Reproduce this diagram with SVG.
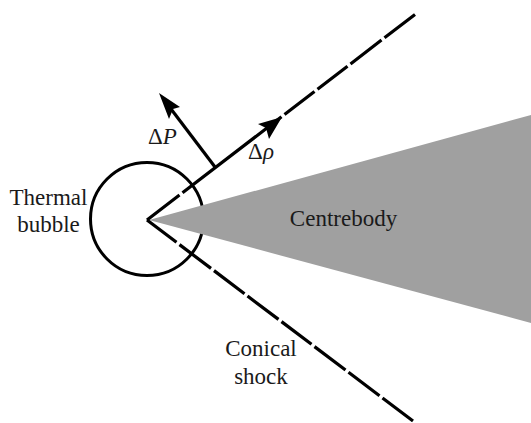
<svg xmlns="http://www.w3.org/2000/svg" width="531" height="423" viewBox="0 0 531 423">
<style>
.t{font-family:"Liberation Serif","Times New Roman",serif;font-size:23px;fill:#1a1a1a;text-anchor:middle}
.i{font-style:italic}
.l{fill:none;stroke:#000;stroke-width:3.2;stroke-linecap:butt}
.h{fill:#000;stroke:none}
</style>
<rect width="531" height="423" fill="#fff"/>
<g id="thermal-bubble"><circle cx="147" cy="219" r="56.5" fill="none" stroke="#000" stroke-width="3"/>
<text class="t" x="48.500" y="205">Thermal</text><text class="t" x="48.500" y="232">bubble</text></g>
<g id="centrebody"><polygon points="149,220 531,115 531,323" fill="#a0a0a0"/>
<text class="t" x="343.500" y="226">Centrebody</text></g>
<g id="connectors">
<path class="l" d="M147,220L179.500,195.100M182.500,192.800L281.500,116.800M284.500,114.500L314.500,91.500M317.500,89.200L347.500,66.200M350.500,63.900L381.500,40.100M384.500,37.800L415,14.400"/>
<path class="l" d="M147,220L176.500,242.300M179.500,244.600L211,268.400M214,270.600L244.500,293.700M247.500,296L278.500,319.400M281.500,321.600L311.500,344.300M314.500,346.600L345.500,370M348.500,372.300L379.500,395.700M382.500,398L413,421"/>
<path class="l" d="M215,167L168,105"/>
<polygon class="h" points="159,93 180,107 173,109 169,119"/>
<polygon class="h" points="282,117 258,124 266,128 269,139"/>
</g>
<g id="labels">
<text class="t" x="162.500" y="144">Δ<tspan class="i">P</tspan></text>
<text class="t" x="261" y="159">Δ<tspan class="i">ρ</tspan></text>
<text class="t" x="261" y="356">Conical</text><text class="t" x="261" y="384">shock</text>
</g>
</svg>
